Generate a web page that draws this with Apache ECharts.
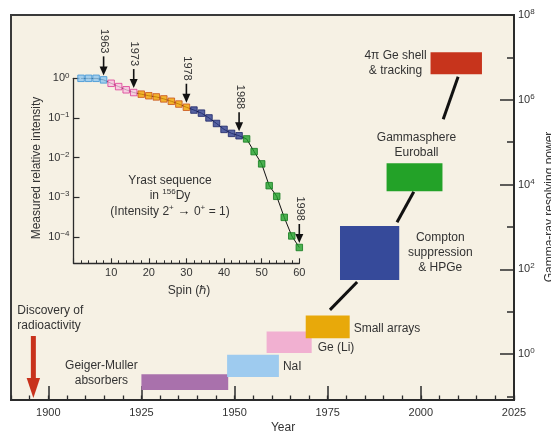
<!DOCTYPE html>
<html><head><meta charset="utf-8">
<script src="https://cdn.jsdelivr.net/npm/echarts@6/dist/echarts.min.js"></script>
<style>html,body{margin:0;padding:0;background:#fff}#c{width:551px;height:433px}</style>
</head><body><div id="c"></div>
<script>
// ---------- Main chart data ----------
const detectors = ['Geiger-Muller\nabsorbers', 'NaI', 'Ge (Li)', 'Small arrays',
  'Compton\nsuppression\n& HPGe', 'Gammasphere\nEuroball', '4\u03c0 Ge shell\n& tracking'];
const yearStart = [1925.0, 1948.0, 1958.6, 1969.1, 1978.3, 1990.8, 2002.6];
const yearEnd   = [1948.3, 1961.9, 1970.7, 1980.9, 1994.2, 2005.8, 2016.4];
const powerLow  = [0.141, 0.288, 1.05, 2.34, 56, 6900, 3.98e6];
const powerHigh = [0.331, 0.955, 3.39, 8.13, 1050, 31600, 1.32e7];
const trendYearFrom  = [1975.6, 1993.6, 2006.0];
const trendYearTo    = [1982.9, 1998.1, 2010.0];
const trendPowerFrom = [11.0, 1290, 3.47e5];
const trendPowerTo   = [50.1, 6760, 3.47e6];
const discoveryYear = 1896;
const yearTicks = [1900, 1925, 1950, 1975, 2000, 2025];
const powerTicks = [1, 1e2, 1e4, 1e6, 1e8];
const powerMinorTicks = [0.1, 1, 10, 1e2, 1e3, 1e4, 1e5, 1e6, 1e7, 1e8];

// ---------- Inset data (Yrast sequence in 156Dy) ----------
const spins = [2, 4, 6, 8, 10, 12, 14, 16, 18, 20, 22, 24, 26, 28, 30,
  32, 34, 36, 38, 40, 42, 44, 46, 48, 50, 52, 54, 56, 58, 60];
const intensity = [1, 1, 1, 0.912, 0.748, 0.617, 0.513, 0.437, 0.398, 0.363, 0.339, 0.302, 0.263, 0.224, 0.186,
  0.158, 0.132, 0.100, 0.0724, 0.0513, 0.0407, 0.0355, 0.0295, 0.0141, 0.00692, 0.00195, 0.00105, 0.000309, 0.000105, 0.0000537];
const milestoneSpin = [8, 16, 30, 44, 60];
const milestoneYear = ['1963', '1973', '1978', '1988', '1998'];
const intensityTicks = [1e-4, 1e-3, 1e-2, 1e-1, 1];
const spinLabels = [10, 20, 30, 40, 50, 60];

// ---------- Styles ----------
const FF = '"Liberation Sans", Arial, Helvetica, sans-serif';
const TXT = '#333333';
const AX = '#2b2b2b';
const boxColors = ['#a971ac', '#9ecbef', '#f1b0d1', '#e8a90a', '#364a9a', '#23a228', '#c7341c'];
const markerFill = ['#8fc6ee', '#f6c4de', '#f2a300', '#2e3e90', '#22a12c'];
const markerStroke = ['#3c93d6', '#dc3a95', '#c8521a', '#1b2468', '#137a1e'];
// label placement relative to box (pixels)
const labelLayout = [
  {ax: 'left', dx: -40, ay: 'mid', dy: -9, align: 'center'},
  {ax: 'right', dx: 4, ay: 'mid', dy: 1, align: 'left'},
  {ax: 'right', dx: 6, ay: 'mid', dy: 5, align: 'left'},
  {ax: 'right', dx: 4, ay: 'mid', dy: 2, align: 'left'},
  {ax: 'right', dx: 41, ay: 'mid', dy: -0.5, align: 'center'},
  {ax: 'center', dx: 2, ay: 'top', dy: -18, align: 'center'},
  {ax: 'left', dx: -35, ay: 'mid', dy: 0, align: 'center'}
];

function groupOf(s) {
  for (let m = 0; m < milestoneSpin.length; m++) if (s <= milestoneSpin[m]) return m;
  return milestoneSpin.length - 1;
}
function sup(v) {
  const e = Math.round(Math.log10(v));
  return '{b|10}{s|' + (e < 0 ? '\u2212' + (-e) : e) + '}';
}
const richSup = {
  b: {fontSize: 11, color: TXT, fontFamily: FF, lineHeight: 14},
  s: {fontSize: 8, color: TXT, fontFamily: FF, verticalAlign: 'top', lineHeight: 14}
};

const boxData = yearStart.map((s, i) => [s, yearEnd[i], powerLow[i], powerHigh[i]]);
const trendSeries = trendYearFrom.map((y, i) => ({
  type: 'line', xAxisIndex: 0, yAxisIndex: 0, showSymbol: false, silent: true, z: 3,
  lineStyle: {color: '#111', width: 3},
  data: [[y, trendPowerFrom[i]], [trendYearTo[i], trendPowerTo[i]]]
}));

const option = {
  animation: false,
  backgroundColor: '#ffffff',
  textStyle: {fontFamily: FF},
  grid: [
    {left: 11, right: 37, top: 15, bottom: 33, show: true, backgroundColor: '#f6f1e4', borderColor: '#3a3a3a', borderWidth: 2},
    {left: 73.5, right: 251.7, top: 78.3, bottom: 169.7, show: false}
  ],
  xAxis: [
    {gridIndex: 0, type: 'value', min: 1890, max: 2025, interval: 5, position: 'bottom',
      axisLine: {lineStyle: {color: AX, width: 2}},
      axisTick: {inside: true, length: 4.5, lineStyle: {color: AX, width: 1.3}},
      axisLabel: {customValues: yearTicks, formatter: v => String(v), color: TXT, fontSize: 11, margin: 7, fontFamily: FF},
      splitLine: {show: false}},
    {gridIndex: 0, type: 'value', min: 1890, max: 2025, interval: 5, position: 'bottom',
      axisLine: {show: false},
      axisTick: {inside: true, length: 14, customValues: yearTicks, lineStyle: {color: AX, width: 1.5}},
      axisLabel: {show: false}, splitLine: {show: false}},
    {gridIndex: 1, type: 'value', min: 0, max: 60, interval: 10, position: 'bottom',
      axisLine: {lineStyle: {color: AX, width: 1.3}},
      axisTick: {inside: true, length: 5, lineStyle: {color: AX, width: 1.1}},
      minorTick: {show: true, splitNumber: 5, length: 3, lineStyle: {color: AX, width: 1}},
      axisLabel: {customValues: spinLabels, formatter: v => String(v), color: TXT, fontSize: 11, margin: 4, fontFamily: FF},
      splitLine: {show: false}, minorSplitLine: {show: false}}
  ],
  yAxis: [
    {gridIndex: 0, type: 'log', logBase: 10, min: 0.0822, max: 1e8, position: 'right',
      axisLine: {lineStyle: {color: AX, width: 2}},
      axisTick: {inside: true, length: 7, customValues: powerMinorTicks, lineStyle: {color: AX, width: 1.5}},
      axisLabel: {customValues: powerTicks, formatter: sup, rich: richSup, margin: 4},
      splitLine: {show: false}},
    {gridIndex: 0, type: 'log', logBase: 10, min: 0.0822, max: 1e8, position: 'right',
      axisLine: {show: false},
      axisTick: {inside: true, length: 14, customValues: powerTicks, lineStyle: {color: AX, width: 1.5}},
      axisLabel: {show: false}, splitLine: {show: false}},
    {gridIndex: 1, type: 'log', logBase: 10, min: 2.14e-5, max: 1, position: 'left',
      axisLine: {lineStyle: {color: AX, width: 1.3}},
      axisTick: {inside: true, length: 6, customValues: intensityTicks, lineStyle: {color: AX, width: 1.2}},
      axisLabel: {customValues: intensityTicks, formatter: sup, rich: richSup, margin: 4},
      splitLine: {show: false}}
  ],
  graphic: [
    {type: 'text', x: 283, y: 428, style: {text: 'Year', fill: TXT, fontSize: 12, fontFamily: FF, align: 'center', verticalAlign: 'middle'}},
    {type: 'text', x: 549.5, y: 207, rotation: Math.PI / 2, style: {text: 'Gamma-ray resolving power', fill: TXT, fontSize: 12, fontFamily: FF, align: 'center', verticalAlign: 'middle'}},
    {type: 'text', x: 37, y: 168, rotation: Math.PI / 2, style: {text: 'Measured relative intensity', fill: TXT, fontSize: 12, fontFamily: FF, align: 'center', verticalAlign: 'middle'}},
    {type: 'text', x: 189, y: 291, style: {text: 'Spin (\u210f)', fill: TXT, fontSize: 12, fontFamily: FF, align: 'center', verticalAlign: 'middle'}},
    {type: 'text', x: 170, y: 196, style: {
      text: 'Yrast sequence\nin {s|156}Dy\n(Intensity 2{s|+}{a| \u2192 }0{s|+} = 1)',
      fill: TXT, fontSize: 12, fontFamily: FF, align: 'center', verticalAlign: 'middle', lineHeight: 15.5,
      rich: {s: {fontSize: 8, fill: TXT, verticalAlign: 'top', lineHeight: 15.5, fontFamily: FF},
             a: {fontSize: 13, fontWeight: 'bold', fill: '#111', lineHeight: 15.5, fontFamily: FF}}
    }}
  ],
  series: [
    {
      type: 'custom', xAxisIndex: 0, yAxisIndex: 0, clip: false, z: 4,
      encode: {x: [0, 1], y: [2, 3]},
      data: boxData,
      renderItem: function (params, api) {
        const i = params.dataIndex;
        const p0 = api.coord([api.value(0), api.value(3)]);
        const p1 = api.coord([api.value(1), api.value(2)]);
        const L = labelLayout[i];
        const bx = L.ax === 'left' ? p0[0] : (L.ax === 'right' ? p1[0] : (p0[0] + p1[0]) / 2);
        const by = L.ay === 'top' ? p0[1] : (p0[1] + p1[1]) / 2;
        return {type: 'group', children: [
          {type: 'rect', shape: {x: p0[0], y: p0[1], width: p1[0] - p0[0], height: p1[1] - p0[1]},
            style: {fill: boxColors[i]}},
          {type: 'text', x: bx + L.dx, y: by + L.dy, style: {text: detectors[i], fill: TXT, fontSize: 12,
            fontFamily: FF, align: L.align, verticalAlign: 'middle', lineHeight: 15}}
        ]};
      }
    },
    ...trendSeries,
    {
      type: 'custom', xAxisIndex: 0, yAxisIndex: 0, clip: false, z: 4,
      data: [[discoveryYear, 1]],
      renderItem: function (params, api) {
        const x = api.coord([api.value(0), 1])[0];
        const cs = params.coordSys;
        const tip = cs.y + cs.height - 2;
        return {type: 'group', children: [
          {type: 'rect', shape: {x: x - 2.5, y: tip - 62, width: 5, height: 44}, style: {fill: '#c8321c'}},
          {type: 'polygon', shape: {points: [[x - 6.7, tip - 20], [x + 6.7, tip - 20], [x, tip]]}, style: {fill: '#c8321c'}},
          {type: 'text', x: x - 16, y: tip - 80, style: {text: 'Discovery of\nradioactivity', fill: TXT, fontSize: 12,
            fontFamily: FF, align: 'left', verticalAlign: 'middle', lineHeight: 15.5}}
        ]};
      }
    },
    {
      type: 'line', xAxisIndex: 2, yAxisIndex: 2, showSymbol: false, silent: true, z: 3,
      lineStyle: {color: '#111', width: 1},
      data: spins.map((s, i) => [s, intensity[i]])
    },
    {
      type: 'scatter', xAxisIndex: 2, yAxisIndex: 2, symbol: 'rect', symbolSize: 6.5, z: 5,
      data: spins.map((s, i) => ({value: [s, intensity[i]],
        itemStyle: {color: markerFill[groupOf(s)], borderColor: markerStroke[groupOf(s)], borderWidth: 1}}))
    },
    {
      type: 'custom', xAxisIndex: 2, yAxisIndex: 2, clip: false, z: 6,
      data: milestoneSpin.map((s, k) => [s, intensity[spins.indexOf(s)], k]),
      renderItem: function (params, api) {
        const p = api.coord([api.value(0), api.value(1)]);
        const x = p[0], tip = p[1] - 4.5;
        const k = api.value(2);
        return {type: 'group', children: [
          {type: 'line', shape: {x1: x, y1: tip - 19, x2: x, y2: tip - 6}, style: {stroke: '#111', lineWidth: 1.6}},
          {type: 'polygon', shape: {points: [[x - 4, tip - 9], [x + 4, tip - 9], [x, tip]]}, style: {fill: '#111'}},
          {type: 'text', x: x + 0.5, y: tip - 22, rotation: -Math.PI / 2,
            style: {text: milestoneYear[k], fill: TXT, fontSize: 11, fontFamily: FF, align: 'right', verticalAlign: 'middle'}}
        ]};
      }
    }
  ]
};
const chart = echarts.init(document.getElementById('c'), null, {renderer: 'canvas'});
chart.setOption(option);
</script>
</body></html>
